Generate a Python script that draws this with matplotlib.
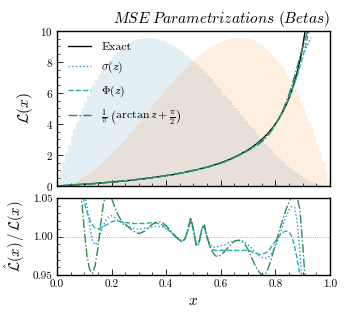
import numpy as np
import matplotlib
matplotlib.use("Agg")
import matplotlib.pyplot as plt
from matplotlib.ticker import MultipleLocator, FormatStrFormatter

plt.rcParams["font.family"] = "serif"
plt.rcParams["font.serif"] = ["cmr10"]
plt.rcParams["mathtext.fontset"] = "cm"
plt.rcParams["axes.formatter.use_mathtext"] = True
plt.rcParams["font.size"] = 8

# background histograms of the two Beta samples (100 bins on [0, 1])
beta_lo = [0.32, 0.94, 1.53, 2.10, 2.65, 3.17, 3.66, 4.14, 4.59, 5.01,
           5.42, 5.80, 6.17, 6.51, 6.83, 7.13, 7.41, 7.68, 7.92, 8.14,
           8.35, 8.54, 8.71, 8.86, 9.00, 9.12, 9.23, 9.32, 9.39, 9.45,
           9.49, 9.53, 9.54, 9.55, 9.54, 9.52, 9.48, 9.44, 9.38, 9.32,
           9.24, 9.15, 9.06, 8.95, 8.83, 8.71, 8.58, 8.44, 8.29, 8.14,
           7.97, 7.81, 7.63, 7.45, 7.27, 7.08, 6.89, 6.69, 6.49, 6.29,
           6.08, 5.87, 5.66, 5.45, 5.24, 5.02, 4.81, 4.59, 4.38, 4.17,
           3.95, 3.74, 3.53, 3.33, 3.12, 2.92, 2.72, 2.53, 2.34, 2.15,
           1.97, 1.80, 1.63, 1.47, 1.31, 1.16, 1.02, 0.88, 0.75, 0.64,
           0.53, 0.43, 0.34, 0.26, 0.18, 0.13, 0.08, 0.04, 0.01, 0.00]
beta_hi = [0.00, 0.01, 0.04, 0.08, 0.13, 0.18, 0.26, 0.34, 0.43, 0.53,
           0.64, 0.75, 0.88, 1.02, 1.16, 1.31, 1.47, 1.63, 1.80, 1.97,
           2.15, 2.34, 2.53, 2.72, 2.92, 3.12, 3.33, 3.53, 3.74, 3.95,
           4.17, 4.38, 4.59, 4.81, 5.02, 5.24, 5.45, 5.66, 5.87, 6.08,
           6.29, 6.49, 6.69, 6.89, 7.08, 7.27, 7.45, 7.63, 7.81, 7.97,
           8.14, 8.29, 8.44, 8.58, 8.71, 8.83, 8.95, 9.06, 9.15, 9.24,
           9.32, 9.38, 9.44, 9.48, 9.52, 9.54, 9.55, 9.54, 9.53, 9.49,
           9.45, 9.39, 9.32, 9.23, 9.12, 9.00, 8.86, 8.71, 8.54, 8.35,
           8.14, 7.92, 7.68, 7.41, 7.13, 6.83, 6.51, 6.17, 5.80, 5.42,
           5.01, 4.59, 4.14, 3.66, 3.17, 2.65, 2.10, 1.53, 0.94, 0.32]

# likelihood ratio, x = 0.00 ... 0.93 step 0.01
x_vals = np.arange(94) / 100
L_exact = [0.00, 0.01, 0.02, 0.03, 0.04, 0.05, 0.06, 0.08, 0.09, 0.10,
           0.11, 0.12, 0.14, 0.15, 0.16, 0.18, 0.19, 0.20, 0.22, 0.23,
           0.25, 0.27, 0.28, 0.30, 0.32, 0.33, 0.35, 0.37, 0.39, 0.41,
           0.43, 0.45, 0.47, 0.49, 0.52, 0.54, 0.56, 0.59, 0.61, 0.64,
           0.67, 0.69, 0.72, 0.75, 0.79, 0.82, 0.85, 0.89, 0.92, 0.96,
           1.00, 1.04, 1.08, 1.13, 1.17, 1.22, 1.27, 1.33, 1.38, 1.44,
           1.50, 1.56, 1.63, 1.70, 1.78, 1.86, 1.94, 2.03, 2.13, 2.23,
           2.33, 2.45, 2.57, 2.70, 2.85, 3.00, 3.17, 3.35, 3.55, 3.76,
           4.00, 4.26, 4.56, 4.88, 5.25, 5.67, 6.14, 6.69, 7.33, 8.09,
           9.00, 10.11, 11.50, 13.29]

# ratio estimate / exact for each parametrization
r_sigma = [1.45, 1.38, 1.32, 1.26, 1.21, 1.17, 1.13, 1.10, 1.075, 1.062,
           1.055, 1.040, 1.015, 0.995, 0.989, 0.993, 1.005, 1.015, 1.022, 1.026,
           1.027, 1.025, 1.022, 1.019, 1.017, 1.015, 1.013, 1.012, 1.011, 1.010,
           1.010, 1.010, 1.011, 1.011, 1.012, 1.012, 1.013, 1.013, 1.013, 1.012,
           1.010, 1.008, 1.005, 1.002, 0.999, 0.996, 0.994, 0.998, 1.008, 1.020,
           1.008, 0.991, 0.993, 1.008, 1.011, 0.998, 0.990, 0.987, 0.986, 0.987,
           0.988, 0.989, 0.990, 0.992, 0.993, 0.994, 0.995, 0.995, 0.994, 0.992,
           0.989, 0.986, 0.982, 0.978, 0.975, 0.973, 0.972, 0.972, 0.975, 0.980,
           0.987, 0.996, 1.006, 1.017, 1.027, 1.035, 1.039, 1.038, 1.020, 0.980,
           0.930, 0.870, 0.800, 0.720]
r_phi = [1.40, 1.34, 1.28, 1.23, 1.19, 1.15, 1.12, 1.095, 1.075, 1.058,
         1.045, 1.032, 1.022, 1.015, 1.011, 1.010, 1.011, 1.013, 1.015, 1.017,
         1.019, 1.020, 1.020, 1.020, 1.019, 1.018, 1.018, 1.017, 1.017, 1.017,
         1.017, 1.017, 1.017, 1.017, 1.018, 1.018, 1.018, 1.017, 1.016, 1.014,
         1.011, 1.008, 1.005, 1.001, 0.998, 0.995, 0.993, 0.998, 1.009, 1.022,
         1.008, 0.989, 0.991, 1.010, 1.014, 0.998, 0.987, 0.983, 0.982, 0.982,
         0.982, 0.982, 0.982, 0.982, 0.982, 0.982, 0.982, 0.982, 0.982, 0.982,
         0.982, 0.981, 0.979, 0.978, 0.977, 0.977, 0.978, 0.980, 0.984, 0.989,
         0.994, 0.999, 1.003, 1.006, 1.007, 1.006, 1.000, 0.988, 0.970, 0.950,
         0.925, 0.890, 0.850, 0.800]
r_atan = [1.60, 1.50, 1.42, 1.35, 1.28, 1.22, 1.17, 1.12, 1.09, 1.05,
          1.010, 0.975, 0.957, 0.952, 0.962, 0.985, 1.015, 1.042, 1.056, 1.058,
          1.050, 1.040, 1.031, 1.024, 1.019, 1.016, 1.013, 1.010, 1.007, 1.005,
          1.004, 1.005, 1.007, 1.010, 1.013, 1.016, 1.018, 1.019, 1.019, 1.017,
          1.014, 1.010, 1.006, 1.002, 0.998, 0.995, 0.993, 0.998, 1.010, 1.025,
          1.010, 0.988, 0.990, 1.010, 1.015, 1.000, 0.988, 0.980, 0.975, 0.974,
          0.976, 0.979, 0.983, 0.987, 0.991, 0.994, 0.995, 0.995, 0.993, 0.989,
          0.983, 0.975, 0.967, 0.960, 0.954, 0.950, 0.949, 0.955, 0.965, 0.977,
          0.990, 1.002, 1.014, 1.025, 1.036, 1.045, 1.052, 1.055, 1.050, 1.035,
          0.990, 0.940, 0.880, 0.800]

labels = ["Exact", r"$\sigma(z)$", r"$\Phi(z)$",
          r"$\frac{1}{\pi}\ \left(\arctan z + \frac{\pi}{2}\right)$"]
c_sigma = "#1E90FF"
c_phi = "#20B2AA"
c_atan = "#2E8B57"

L_exact = np.array(L_exact)

fig = plt.figure(figsize=(3.47, 3.19), dpi=100)
ax = fig.add_axes([0.164, 0.417, 0.787, 0.486])
ax2 = fig.add_axes([0.164, 0.138, 0.787, 0.241], sharex=ax)

centers = (np.arange(100) + 0.5) / 100
ax.bar(centers, beta_lo, width=0.01, color="C0", alpha=0.12, linewidth=0)
ax.bar(centers, beta_hi, width=0.01, color="C1", alpha=0.12, linewidth=0)

ax.plot(x_vals, L_exact, color="k", lw=1.0, label=labels[0])
ax.plot(x_vals, L_exact * np.array(r_sigma), color=c_sigma, lw=1.0, ls=":", label=labels[1])
ax.plot(x_vals, L_exact * np.array(r_phi), color=c_phi, lw=1.0, ls="--", label=labels[2])
ax.plot(x_vals, L_exact * np.array(r_atan), color=c_atan, lw=1.0, ls="-.", label=labels[3])

ax.set_xlim(0, 1)
ax.set_ylim(0, 10)
ax.set_ylabel(r"$\mathcal{L}(x)$", fontsize=11)
ax.set_title(r"$\mathit{MSE\ Parametrizations\ (Betas)}$", loc="right", fontsize=11, pad=6)
ax.legend(loc="upper left", frameon=False, handlelength=2.0, handletextpad=0.85,
          fontsize=8.5, borderaxespad=0.5, labelspacing=0.7)
ax.yaxis.set_major_locator(MultipleLocator(2))
ax.yaxis.set_minor_locator(MultipleLocator(0.5))
ax.tick_params(labelbottom=False)

ax2.plot(x_vals, r_sigma, color=c_sigma, lw=1.0, ls=":")
ax2.plot(x_vals, r_phi, color=c_phi, lw=1.0, ls="--")
ax2.plot(x_vals, r_atan, color=c_atan, lw=1.0, ls="-.")
ax2.axhline(1.0, color="gray", lw=0.5, ls=":")
ax2.set_ylim(0.95, 1.05)
ax2.set_xlabel(r"$x$", fontsize=11)
ax2.set_ylabel(r"$\hat{\mathcal{L}}(x)\,/\,\mathcal{L}(x)$", fontsize=10.5)
ax2.yaxis.set_major_locator(MultipleLocator(0.05))
ax2.yaxis.set_minor_locator(MultipleLocator(0.01))
ax2.xaxis.set_major_locator(MultipleLocator(0.2))
ax2.xaxis.set_minor_locator(MultipleLocator(0.05))
ax2.yaxis.set_major_formatter(FormatStrFormatter("%.2f"))
ax2.xaxis.set_major_formatter(FormatStrFormatter("%.1f"))

for a in (ax, ax2):
    a.tick_params(which="both", direction="in", top=False, right=False, labelsize=8)
    a.tick_params(which="major", length=4, width=0.6, pad=3)
    a.tick_params(which="minor", length=2, width=0.5)
    for s in a.spines.values():
        s.set_linewidth(1.0)

fig.savefig("out.png", dpi=100)
